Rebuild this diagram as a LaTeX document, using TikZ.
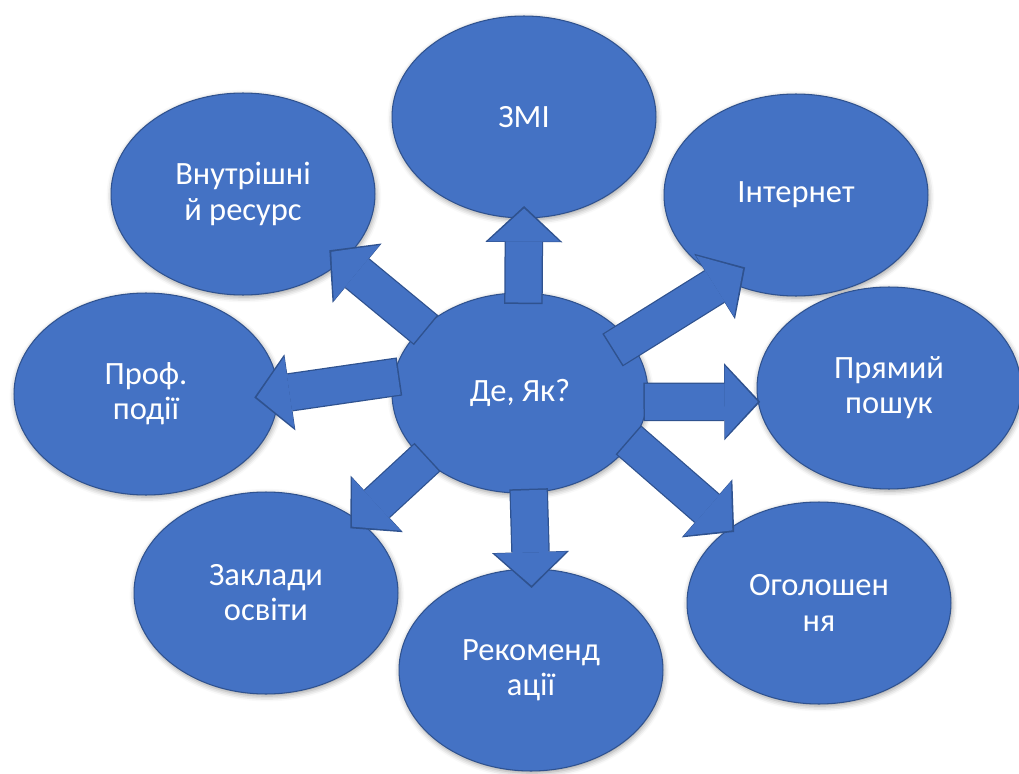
\documentclass[tikz,border=0pt]{standalone}
\usepackage{fontspec}
\setmainfont{Carlito}
\usepackage{tikz}
\usetikzlibrary{shapes.geometric}
\usetikzlibrary{arrows.meta}
\usetikzlibrary{shadows.blur}
\definecolor{uuxxcc}{rgb}{0.26666666666666666,0.4470588235294118,0.7686274509803922}
\definecolor{qqbbnn}{rgb}{0.1843137254901961,0.3215686274509804,0.5607843137254902}
\tikzstyle{every node}=[font=\fontsize{18.5}{20}\selectfont]
\tikzset{
  bubble/.style={ellipse,fill=uuxxcc,draw=qqbbnn,line width=0.6pt,text=white,align=center,
    inner sep=0pt,minimum width=5.28cm,minimum height=4.04cm,
    blur shadow={shadow blur radius=3pt,shadow xshift=0.5pt,shadow yshift=-1.2pt,shadow opacity=40}},
  hubbubble/.style={bubble,minimum width=5.12cm,minimum height=4cm},
  flow/.style n args={2}{
    preaction={draw=qqbbnn,line width=0.77cm,line cap=butt,
      shorten <={-#1cm-0.03cm},shorten >={-#2cm-0.05cm},
      -{Triangle[length=0.72cm,width=1.54cm,line width=0pt,sharp]}},
    line width=0.72cm,line cap=butt,draw=uuxxcc,
    shorten <=-#1cm,shorten >=-#2cm,
    -{Triangle[length=0.66cm,width=1.44cm,line width=0pt,sharp]}}
}

\begin{document}
\begin{tikzpicture}[line cap=round,line join=round,x=0.02cm,y=-0.02cm]
\useasboundingbox (0,0) rectangle (1019,774);
\node [bubble] (zmi) at (524,117) {ЗМІ};
\node [bubble] (vres) at (243,194) {Внутрішні\\й ресурс};
\node [bubble] (inet) at (796,195) {Інтернет};
\node [bubble] (prof) at (146,394) {Проф.\\події};
\node [bubble] (prst) at (889,388) {Прямий\\пошук};
\node [bubble] (school) at (266,593) {Заклади\\освіти};
\node [bubble] (rec) at (531,670) {Рекоменд\\ації};
\node [bubble] (ogol) at (819,603) {Оголошен\\ня};
\node [hubbubble] (hub) at (520,393) {Де, Як?};
\draw [flow={0.2}{0.2}] (hub.88) -- (zmi.south);
\draw [flow={0.36}{0.44}] (hub.26) -- (inet.230);
\draw [flow={0.06}{0}] (hub.-4) -- (prst.186);
\draw [flow={0.06}{0.07}] (hub.-24) -- (ogol.140);
\draw [flow={0.06}{0.34}] (hub.-85) -- (rec.north);
\draw [flow={0.06}{0.18}] (hub.215) -- (school.38);
\draw [flow={0.1}{0.44}] (hub.173) -- (prof.east);
\draw [flow={0.06}{0.29}] (hub.146) -- (vres.326);
\end{tikzpicture}
\end{document}
